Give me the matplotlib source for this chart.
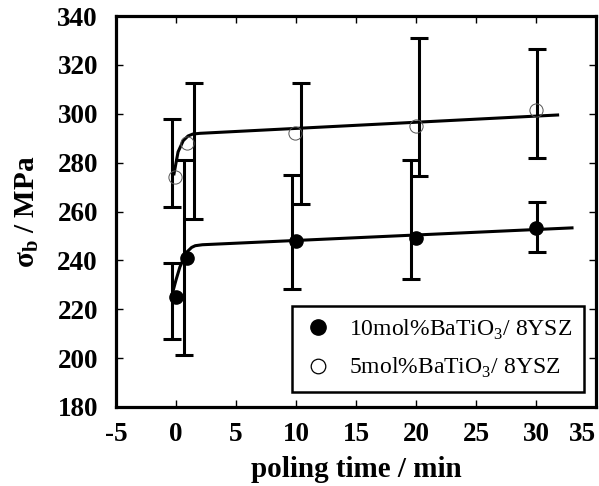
import matplotlib
matplotlib.use("Agg")
import matplotlib.pyplot as plt
from matplotlib.lines import Line2D

plt.rcParams['font.family'] = 'Liberation Serif'
plt.rcParams['mathtext.fontset'] = 'custom'
plt.rcParams['mathtext.rm'] = 'Liberation Serif'
plt.rcParams['mathtext.bf'] = 'Liberation Serif:bold'
plt.rcParams['axes.unicode_minus'] = False

# 10mol%BaTiO3 / 8YSZ (filled)
t10 = [0.0, 0.9, 10.0, 20.0, 30.0]
s10 = [225, 241, 248, 249.3, 253.3]
eb_t10 = [-0.33, 0.67, 9.67, 19.6, 30.1]
eb_lo10 = [208, 201.3, 228.3, 232.5, 243.5]
eb_hi10 = [239, 281, 275, 281, 264]
fit_t10 = [-0.33, 0.0, 0.33, 0.9, 1.3, 1.6, 2.2, 33.0]
fit_s10 = [226, 232, 237.4, 243.4, 245.3, 246, 246.4, 253.3]

# 5mol%BaTiO3 / 8YSZ (open)
t5 = [-0.08, 0.9, 9.9, 20.0, 30.0]
s5 = [274, 288, 292, 295, 301.5]
eb_t5 = [-0.33, 1.5, 10.4, 20.25, 30.1]
eb_lo5 = [262, 257, 263, 274.5, 282]
eb_hi5 = [298, 312.6, 312.6, 331, 326.5]
fit_t5 = [-0.17, 0.17, 0.6, 1.0, 1.4, 2.0, 31.8]
fit_s5 = [275.4, 284.4, 289, 290.9, 291.7, 292, 299.5]

fig = plt.figure(figsize=(5.99, 4.86), dpi=100)
ax = fig.add_axes([0.1937, 0.1626, 0.8013, 0.8044])

def draw_bars(x, lo, hi):
    mid = [(a + b) / 2 for a, b in zip(lo, hi)]
    err = [[m - a for m, a in zip(mid, lo)], [b - m for m, b in zip(mid, hi)]]
    ax.errorbar(x, mid, yerr=err, fmt='none', ecolor='black',
                elinewidth=2.2, capsize=6.2, capthick=2.2, zorder=2)

draw_bars(eb_t5, eb_lo5, eb_hi5)
draw_bars(eb_t10, eb_lo10, eb_hi10)

ax.plot(fit_t5, fit_s5, color='black', lw=2.2, zorder=3)
ax.plot(fit_t10, fit_s10, color='black', lw=2.2, zorder=3)

ax.plot(t10, s10, 'o', ms=9.5, color='black', zorder=4)
ax.plot(t5, s5, 'o', ms=9.5, mfc='none', mec='#555555', mew=0.7, zorder=4)

ax.set_xlim(-5, 35)
ax.set_ylim(180, 340)
ax.set_xticks(range(-5, 36, 5))
ax.set_yticks(range(180, 341, 20))
ax.tick_params(direction='in', length=5, width=1, top=True, right=True,
               labelsize=19.5)
ax.tick_params(axis='y', pad=13)
ax.tick_params(axis='x', pad=11)
for lab in ax.get_xticklabels() + ax.get_yticklabels():
    lab.set_fontweight('bold')
ax.get_xticklabels()[-1].set_horizontalalignment('right')
for sp in ax.spines.values():
    sp.set_linewidth(2.3)

ax.set_xlabel('poling time / min', fontsize=21, fontweight='bold', labelpad=6)
ax.set_ylabel(r'σ$_\mathbf{b}$ / MPa', fontsize=21, fontweight='bold', labelpad=12)

handles = [
    Line2D([], [], ls='none', marker='o', ms=11, color='black'),
    Line2D([], [], ls='none', marker='o', ms=10.5, mfc='none', mec='black', mew=0.9),
]
labels = [r'10mol%BaTiO$_3$/ 8YSZ', r'5mol%BaTiO$_3$/ 8YSZ']
leg = ax.legend(handles, labels, loc='lower right', bbox_to_anchor=(0.975, 0.038),
                borderaxespad=0, fontsize=17, frameon=True, fancybox=False,
                framealpha=1, edgecolor='black', handletextpad=0.7,
                borderpad=0.5, labelspacing=0.6, handlelength=1.2)
leg.get_frame().set_linewidth(1.8)

fig.savefig('out.png', dpi=100)
